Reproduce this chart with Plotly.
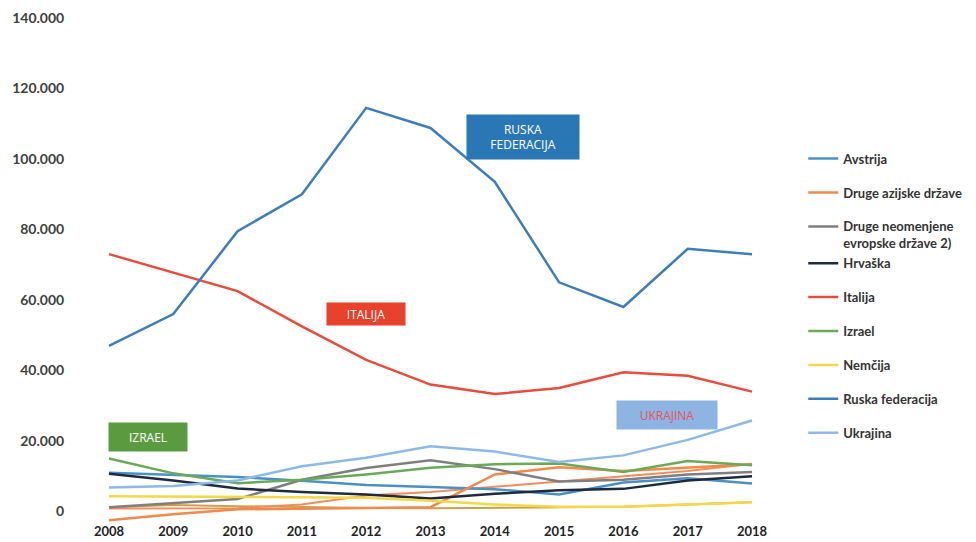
import plotly.graph_objects as go

# Years on the x axis
years = [2008, 2009, 2010, 2011, 2012, 2013, 2014, 2015, 2016, 2017, 2018]

# Series values
avstrija = [11000, 10500, 9800, 8700, 7500, 6900, 6300, 4800, 8200, 9400, 7900]
druge_azijske = [-2500, -800, 600, 800, 1000, 1200, 10500, 12500, 11500, 12500, 13400]
druge_neomenjene = [1200, 2300, 3500, 9000, 12300, 14500, 12000, 8500, 9000, 10500, 11200]
hrvaska = [10700, 8800, 6500, 5500, 4800, 3700, 5000, 6000, 6400, 8800, 10000]
italija = [73000, 67800, 62500, 52500, 43000, 36000, 33300, 35000, 39500, 38500, 34000]
izrael = [15000, 10800, 8000, 9000, 10500, 12400, 13400, 13600, 11200, 14300, 13100]
nemcija = [4300, 4200, 4100, 4000, 3900, 3000, 2000, 1300, 1300, 2000, 2600]
ruska = [47000, 56000, 79500, 90000, 114500, 108800, 93500, 65000, 58000, 74500, 73000]
ukrajina = [6800, 7200, 8800, 12800, 15200, 18500, 17000, 14000, 15900, 20300, 25800]
# two extra lines visible in the plot but not in the legend
ostalo_a = [800, 800, 900, 2000, 4500, 5500, 7000, 8500, 10000, 11500, 13500]
ostalo_b = [1200, 1800, 1500, 1200, 1000, 900, 1000, 1100, 1300, 2000, 2600]

y_ticks = [0, 20000, 40000, 60000, 80000, 100000, 120000, 140000]

series = [
    ("Avstrija", avstrija, "#4A90C8", "g1"),
    ("Druge azijske države", druge_azijske, "#F08A4B", "g2"),
    ("Druge neomenjene<br>evropske države 2)", druge_neomenjene, "#7F7F7F", "g3"),
    ("Hrvaška", hrvaska, "#1F2A3C", "g3"),
    ("Italija", italija, "#E84C3D", "g5"),
    ("Izrael", izrael, "#6AAA57", "g6"),
    ("Nemčija", nemcija, "#F5D848", "g7"),
    ("Ruska federacija", ruska, "#3B7DBF", "g8"),
    ("Ukrajina", ukrajina, "#8DB9E8", "g9"),
]

fig = go.Figure()

# unlabeled lines first so they sit underneath
fig.add_trace(go.Scatter(x=years, y=ostalo_b, mode="lines", name="Ostalo",
                         line=dict(color="#C9A24A", width=2), showlegend=False))
fig.add_trace(go.Scatter(x=years, y=ostalo_a, mode="lines", name="Ostalo",
                         line=dict(color="#F28C5A", width=2), showlegend=False))

for name, vals, color, grp in series:
    fig.add_trace(go.Scatter(x=years, y=vals, mode="lines", name=name,
                             legendgroup=grp,
                             line=dict(color=color, width=2.5)))

# label boxes on the lines
labels = [
    ("RUSKA<br>FEDERACIJA", 2014.44, 106300, "#2A77B5", "white", 108, 40),
    ("ITALIJA", 2012.0, 56000, "#E8412C", "white", 74, 18),
    ("UKRAJINA", 2016.68, 27300, "#8DB4E2", "#E9535A", 96, 24),
    ("IZRAEL", 2008.61, 21000, "#5B9B40", "white", 74, 24),
]
for text, x, y, bg, fc, w, h in labels:
    fig.add_annotation(x=x, y=y, text=text, showarrow=False,
                       bgcolor=bg, width=w, height=h, borderpad=2,
                       font=dict(family="Open Sans", size=12, color=fc))

fig.update_layout(
    width=976, height=542,
    margin=dict(l=72, r=216, t=18, b=20),
    paper_bgcolor="white",
    plot_bgcolor="white",
    separators=",.",
    showlegend=True,
    legend=dict(
        xref="container", yref="container",
        x=0.823, y=0.735, xanchor="left", yanchor="top",
        tracegroupgap=14, valign="top", maxheight=420,
        font=dict(family="Lato", size=13, color="#333333", weight="bold"),
        bgcolor="rgba(0,0,0,0)",
    ),
)

fig.update_xaxes(
    range=[2007.425, 2018.124], tickvals=years, showgrid=False,
    zeroline=False, showline=False, automargin=False,
    tickfont=dict(family="Lato", size=13, color="#222222", weight="bold"),
)
fig.update_yaxes(
    range=[-3000, 140000], tickvals=y_ticks, tickformat=",d",
    showgrid=False, zeroline=False, showline=False, automargin=False,
    ticks="outside", ticklen=4, tickcolor="rgba(0,0,0,0)",
    tickfont=dict(family="Lato", size=14, color="#404040", weight="bold"),
)

# drop the default page margin so the figure fills the window
fig.write_html("out.html", config={"displayModeBar": False},
               post_script="document.body.style.margin='0';")
